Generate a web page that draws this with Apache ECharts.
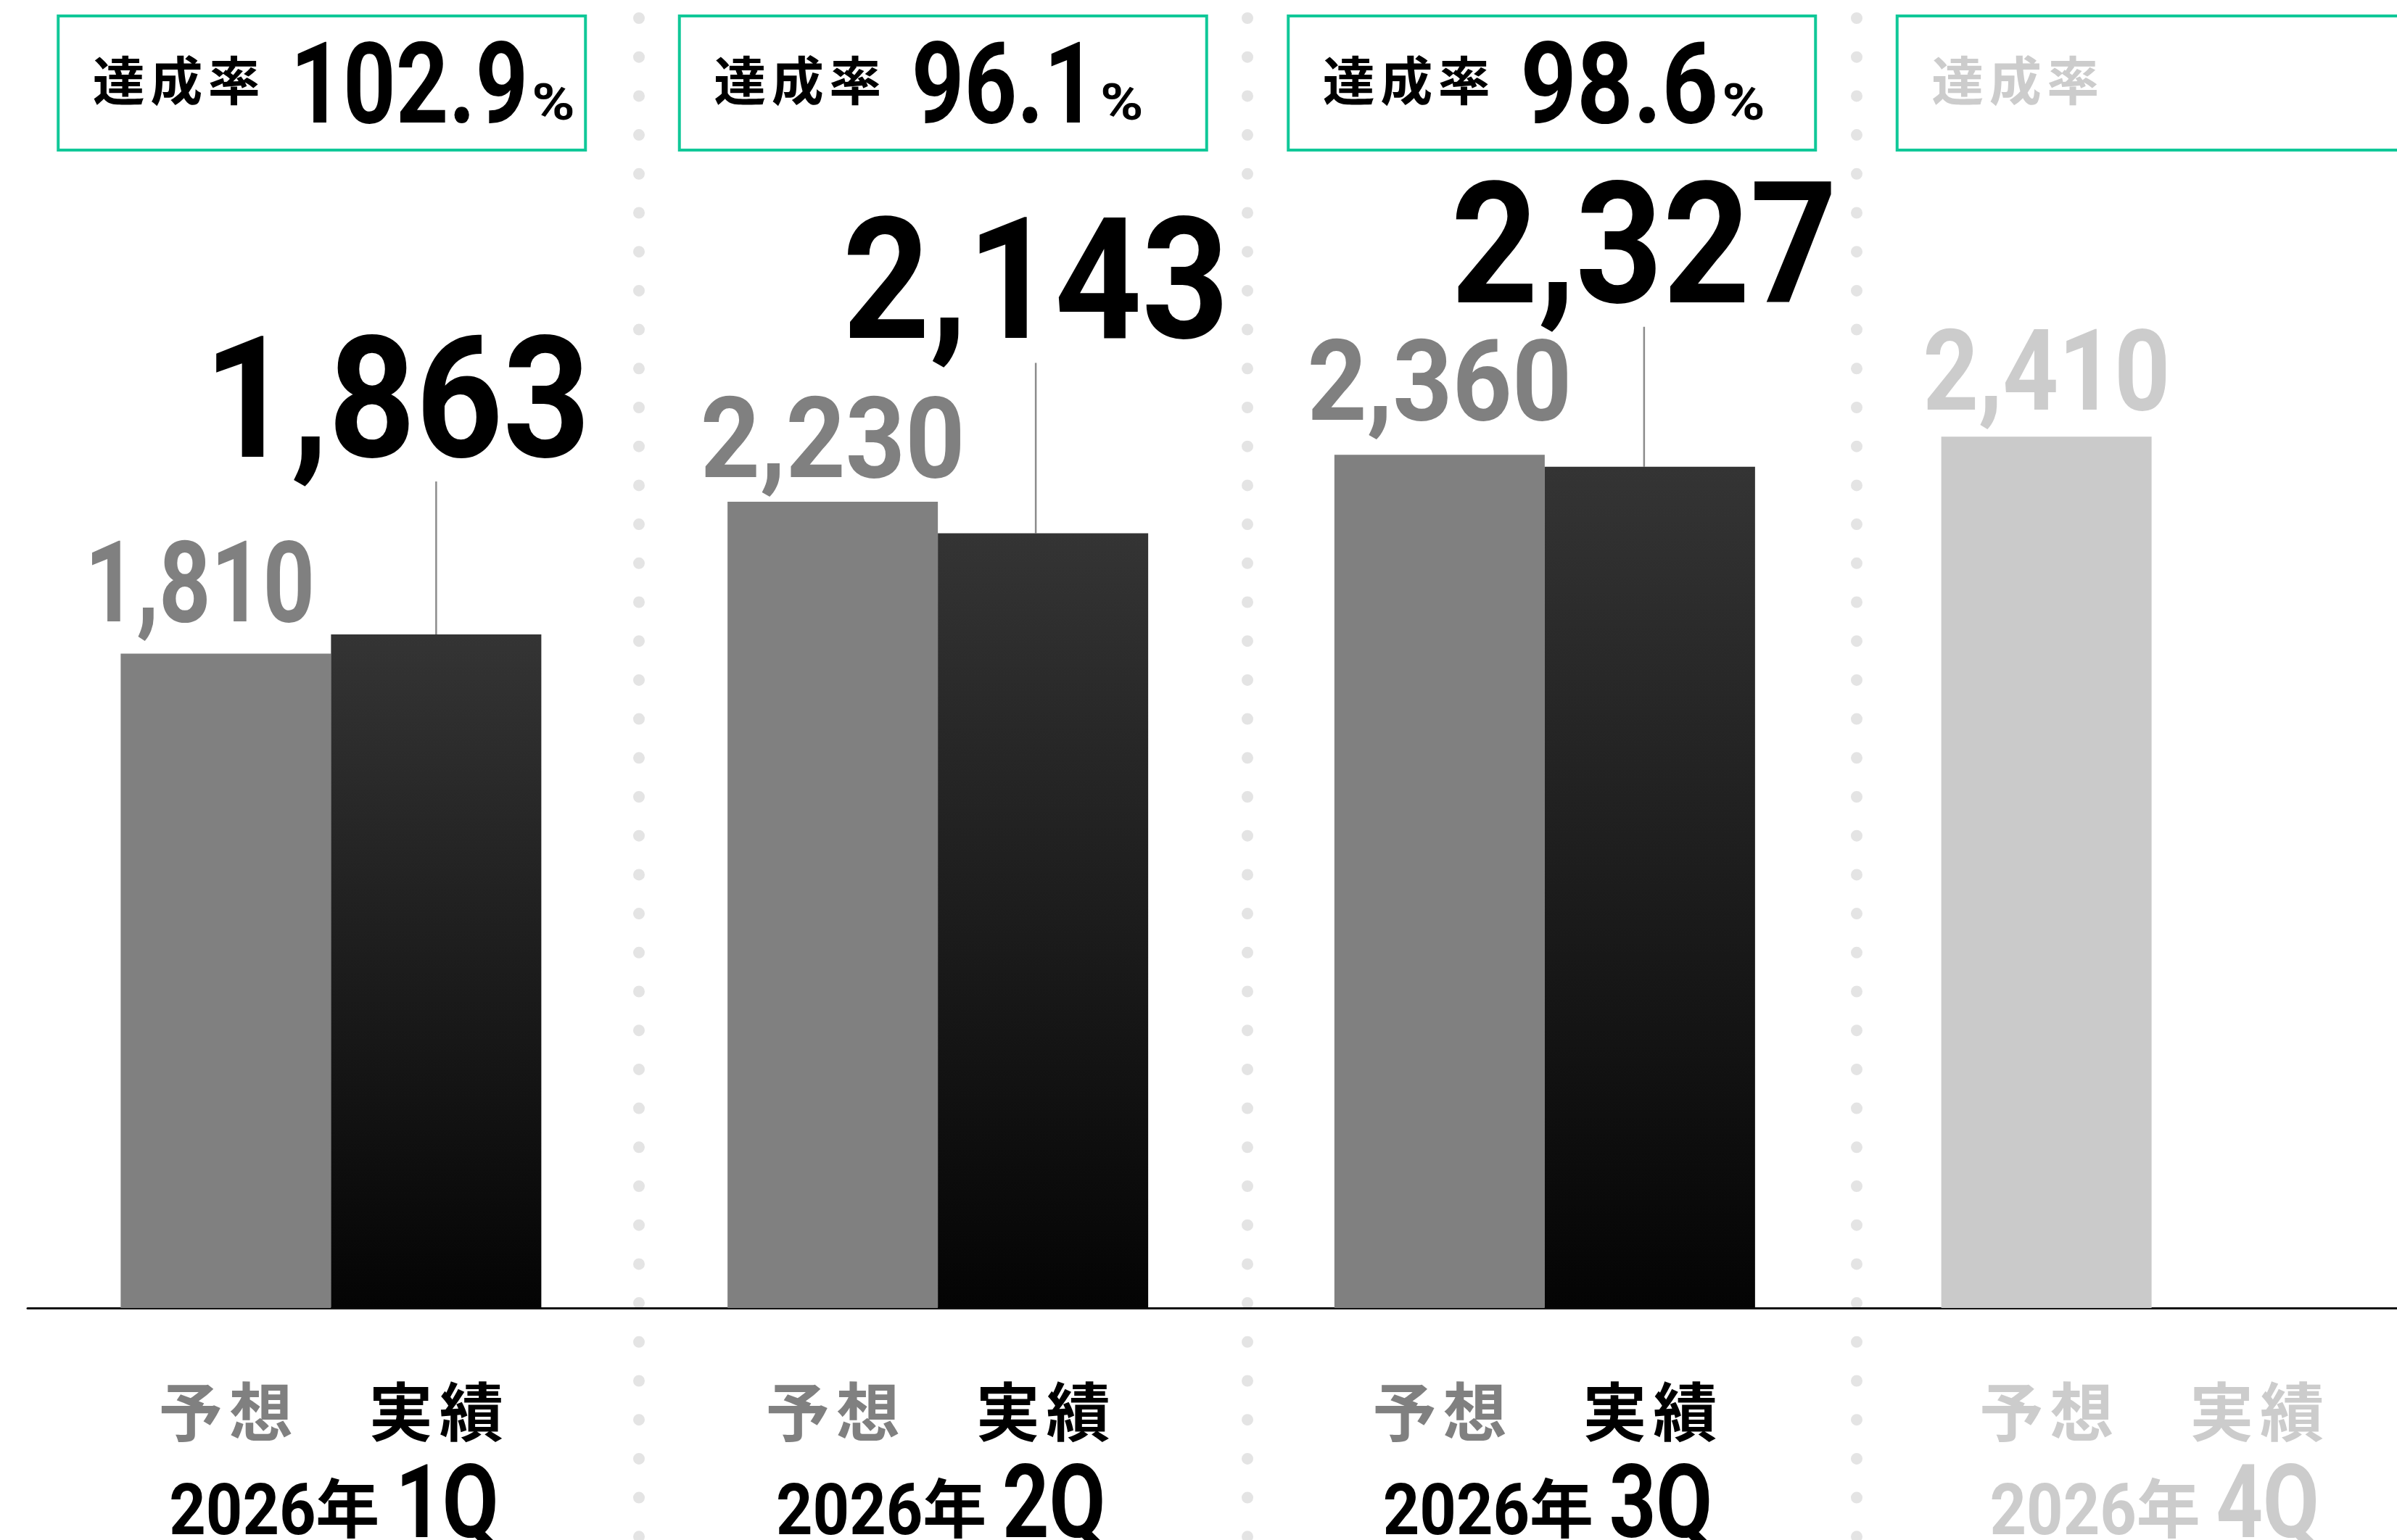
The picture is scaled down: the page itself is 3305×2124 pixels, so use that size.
<!DOCTYPE html>
<html lang="ja">
<head>
<meta charset="utf-8">
<title>達成率</title>
<script src="https://cdn.jsdelivr.net/npm/echarts@6.0.0/dist/echarts.min.js"></script>
<style>
  html, body { margin: 0; padding: 0; background: #fff; }
  #chart { width: 3305px; height: 2124px; }
</style>
</head>
<body>
<div id="chart"></div>
<script>
// データ
const quarters = ['1Q', '2Q', '3Q', '4Q']
const fiscalYear = '2026'
const forecast = [1810, 2230, 2360, 2410]
const actual = [1863, 2143, 2327, null]
const achievement = ['102.9', '96.1', '98.6', null]

// 見た目
const NUM_FONT = "Roboto, 'Liberation Sans', sans-serif"
const JP_FONT = "'Noto Sans CJK JP', 'Noto Sans', sans-serif"
const GREEN = '#10c898'
const GRAY = '#808080'
const PALE = '#cccccc'
const BAR_W = 290
const forecastGap = [44, 33, 47, 37]
const forecastShift = [-36, 0, 0, 0]
const actualLift = [244, 268, 226]
const leaderDx = [0, -10, -8]
const actualShift = [-54, 0, 0]
const boxShift = [-17, 0, 0, 0]
const LEADER_GAP = 33
const NUM_BASE = 0.255

const fmt = v => v.toLocaleString('en-US')
const isPale = i => actual[i] == null
// 元の書体は「1」が細いので、その分だけ横幅を詰める
const narrow = (s, sx) => sx * (1 - 0.065 * (s.split('1').length - 1))

const measureCtx = document.createElement('canvas').getContext('2d')
const textWidth = (s, size, family) => {
  measureCtx.font = `bold ${size}px ${family}`
  return measureCtx.measureText(s).width
}

// 数字: 下端(ベースライン)基準で置く
const numText = (s, x, inkBottom, size, sx, color, align) => ({
  type: 'text',
  x,
  y: inkBottom - NUM_BASE * size,
  scaleX: sx,
  style: {
    text: s, fill: color, fontFamily: NUM_FONT, fontWeight: 'bold', fontSize: size,
    align: align || 'center', verticalAlign: 'middle'
  }
})

// 日本語: 字面の中心基準で、字間をあけて置く
const jpText = (s, cx, inkCenter, size, advance, color) => ({
  type: 'group',
  children: s.split('').map((ch, k, arr) => ({
    type: 'text',
    x: cx + (k - (arr.length - 1) / 2) * advance,
    y: inkCenter - 0.02 * size,
    style: {
      text: ch, fill: color, fontFamily: JP_FONT, fontWeight: 'bold', fontSize: size,
      align: 'center', verticalAlign: 'middle'
    }
  }))
})

const renderActual = (params, api) => {
  const i = api.value(0)
  const top = api.coord([i, api.value(1)])
  const x = top[0] + BAR_W / 2 + leaderDx[i]
  const inkBottom = top[1] - actualLift[i]
  return {
    type: 'group',
    children: [
      {
        type: 'line',
        shape: { x1: x, y1: top[1], x2: x, y2: inkBottom + LEADER_GAP },
        style: { stroke: '#8c8c8c', lineWidth: 2.5 }
      },
      numText(fmt(api.value(1)), x + actualShift[i], inkBottom, 233, 0.9, '#000')
    ]
  }
}

const renderForecast = (params, api) => {
  const i = api.value(0)
  const top = api.coord([i, api.value(1)])
  const s = fmt(api.value(1))
  return numText(s, top[0] - BAR_W / 2 + forecastShift[i],
    top[1] - forecastGap[i], 156, narrow(s, 0.92), isPale(i) ? PALE : GRAY)
}

const renderCategory = (params, api) => {
  const i = api.value(0)
  const [c, base] = api.coord([i, 0])
  const pale = isPale(i)
  const main = pale ? PALE : '#000'
  return {
    type: 'group',
    children: [
      jpText('予想', c - BAR_W / 2, base + 144.5, 88, 97, pale ? PALE : GRAY),
      jpText('実績', c + BAR_W / 2, base + 144.5, 88, 97, main),
      numText(fiscalYear, c - 122, base + 312, 98, 0.9, main),
      jpText('年', c + 23, base + 277, 88, 0, main),
      numText(quarters[i], c + 160, base + 317, 141, 0.8, main)
    ]
  }
}

const renderBox = (params, api) => {
  const i = api.value(0)
  const c = api.coord([i, 0])[0] + boxShift[i]
  const top = params.coordSys.y
  const left = c - 363.5
  const rate = achievement[i]
  const children = [
    {
      type: 'rect',
      shape: { x: left, y: top, width: 727, height: 185 },
      style: { fill: null, stroke: GREEN, lineWidth: 4 }
    },
    jpText('達成率', left + 163, top + 90, 72, 79.5, rate == null ? PALE : '#000')
  ]
  if (rate != null) {
    const nx = left + 320
    const sx = narrow(rate, 0.87)
    const w = textWidth(rate, 156, NUM_FONT) * sx
    children.push(numText(rate, nx, top + 148, 156, sx, '#000', 'left'))
    children.push(numText('%', nx + w + 5, top + 143, 70, 1.15, '#000', 'left'))
  }
  return { type: 'group', children }
}

const chart = echarts.init(document.getElementById('chart'))

const option = {
  animation: false,
  backgroundColor: '#fff',
  grid: [
    { left: 38, width: 3347, top: 9, bottom: 320, outerBoundsMode: 'none' },
    { left: 41, width: 3358, top: 22, bottom: 0, outerBoundsMode: 'none' }
  ],
  xAxis: [
    {
      type: 'category',
      data: quarters,
      axisLine: { lineStyle: { color: '#111', width: 3 } },
      axisTick: { show: false },
      axisLabel: { show: false },
      splitLine: { show: false }
    },
    {
      type: 'category',
      gridIndex: 1,
      position: 'top',
      data: quarters,
      axisLine: { show: false },
      axisTick: { show: false },
      axisLabel: { show: false },
      splitLine: {
        show: true,
        interval: (i) => i > 0,
        lineStyle: { color: '#e4e4e4', width: 16, type: [0, 53.7], dashOffset: 50.7, cap: 'round' }
      }
    }
  ],
  yAxis: [
    { type: 'value', min: 0, max: 3600, show: false },
    { type: 'value', gridIndex: 1, min: 0, max: 1, show: false }
  ],
  series: [
    {
      name: '予想',
      type: 'bar',
      barWidth: BAR_W,
      barGap: '0%',
      data: forecast.map((v, i) => ({
        value: v,
        itemStyle: { color: isPale(i) ? '#cacaca' : GRAY }
      }))
    },
    {
      name: '実績',
      type: 'bar',
      barWidth: BAR_W,
      barGap: '0%',
      data: actual,
      itemStyle: {
        color: new echarts.graphic.LinearGradient(0, 0, 0, 1, [
          { offset: 0, color: '#343434' },
          { offset: 1, color: '#040404' }
        ])
      }
    },
    {
      name: '予想ラベル',
      type: 'custom',
      data: forecast.map((v, i) => [i, v]),
      renderItem: renderForecast
    },
    {
      name: '実績ラベル',
      type: 'custom',
      data: actual.map((v, i) => [i, v]).filter(d => d[1] != null),
      renderItem: renderActual
    },
    {
      name: '区分',
      type: 'custom',
      data: quarters.map((q, i) => [i, 0]),
      renderItem: renderCategory
    },
    {
      name: '達成率',
      type: 'custom',
      xAxisIndex: 1,
      yAxisIndex: 1,
      data: quarters.map((q, i) => [i, 0]),
      renderItem: renderBox
    }
  ]
}

chart.setOption(option)
window.addEventListener('resize', () => chart.resize())
</script>
</body>
</html>
